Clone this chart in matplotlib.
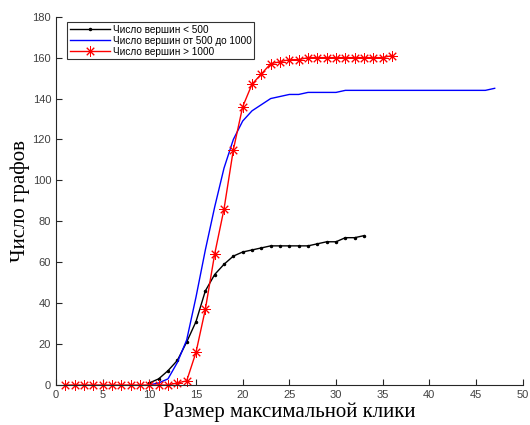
import numpy as np
import matplotlib
matplotlib.use('Agg')
import matplotlib.pyplot as plt

# clique size on x axis, number of graphs on y axis
x_small = list(range(10, 34))
y_small = [1, 3, 7, 12, 21, 31, 46, 54, 59, 63, 65, 66, 67, 68, 68, 68, 68, 68,
           69, 70, 70, 72, 72, 73]

x_mid = list(range(10, 48))
y_mid = [0, 1, 3, 11, 22, 43, 66, 87, 106, 120, 129, 134, 137, 140, 141, 142,
         142, 143, 143, 143, 143] + [144] * 16 + [145]

x_big = list(range(1, 37))
y_big = [0] * 12 + [1, 2, 16, 37, 64, 86, 115, 136, 147, 152, 157, 158, 159,
                    159, 160, 160, 160, 160, 160, 160, 160, 160, 160, 161]

labels = ['Число вершин < 500', 'Число вершин от 500 до 1000', 'Число вершин > 1000']

fig = plt.figure(figsize=(5.3, 4.25), dpi=100)
ax = fig.add_axes([56 / 530, 40 / 425, 466.7 / 530, 368.3 / 425])

ax.plot(x_small, y_small, color='black', marker='.', markersize=3, linewidth=1, label=labels[0])
ax.plot(x_mid, y_mid, color='blue', linewidth=1, label=labels[1])
ax.plot(x_big, y_big, color='red', marker=(8, 2, 0), markersize=7.5, markeredgewidth=0.7,
        linewidth=1, label=labels[2], clip_on=False)

ax.set_xlim(0, 50)
ax.set_ylim(0, 180)
ax.set_xticks(np.arange(0, 51, 5))
ax.set_yticks(np.arange(0, 181, 20))
for s in ['top', 'right']:
    ax.spines[s].set_visible(False)
for s in ['left', 'bottom']:
    ax.spines[s].set_color('#262626')
    ax.spines[s].set_linewidth(0.8)
ax.tick_params(direction='in', length=4, width=0.8, colors='#262626', labelsize=8,
               labelcolor='#404040')
for t in ax.get_xticklabels() + ax.get_yticklabels():
    t.set_family('Liberation Sans')

ax.set_xlabel('Размер максимальной клики', family='Liberation Serif', fontsize=15, labelpad=2)
ax.set_ylabel('Число графов', family='Liberation Serif', fontsize=15, labelpad=2)

leg = ax.legend(loc='upper left', bbox_to_anchor=(0.024, 0.985), prop={'family': 'Liberation Sans', 'size': 7.2},
                frameon=True, fancybox=False, borderpad=0.25, labelspacing=0.1,
                handlelength=4, handletextpad=0.3, borderaxespad=0)
leg.get_frame().set_edgecolor('black')
leg.get_frame().set_linewidth(0.8)

plt.savefig('out.png', dpi=100)
